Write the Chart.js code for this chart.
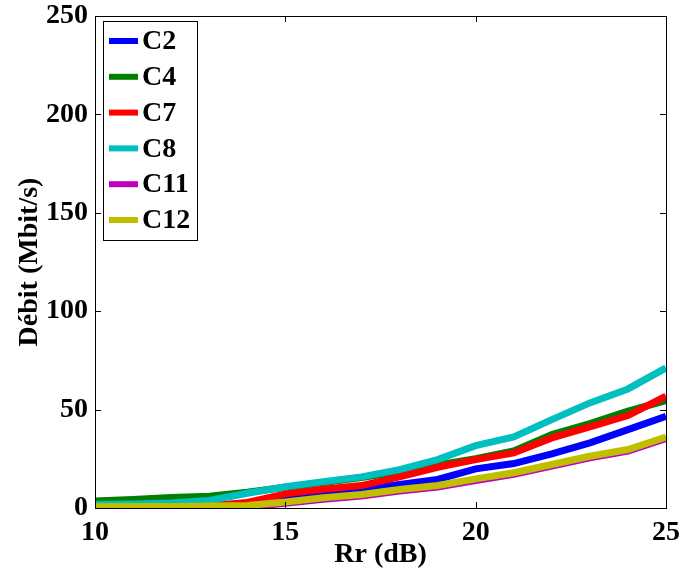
<!DOCTYPE html>
<html lang="fr">
<head>
    <meta charset="UTF-8">
    <title>Débit vs Rr</title>
    <script src="https://cdn.jsdelivr.net/npm/chart.js"></script>
    <style>
        html, body { margin: 0; padding: 0; background: #fff; }
        .chart-container { position: relative; width: 682px; height: 576px; }
    </style>
</head>
<body>
    <div class="chart-container">
        <canvas id="debitChart"></canvas>
    </div>

    <script>
        // Data
        const rr = [10, 11, 12, 13, 14, 15, 16, 17, 18, 19, 20, 21, 22, 23, 24, 25];
        const c2  = [0.5, 0.5, 0.6, 1.0, 2.5, 6.0, 8.0, 9.6, 11.9, 14.5, 19.9, 22.6, 27.5, 33.1, 39.8, 46.6];
        const c4  = [3.5, 4.3, 5.3, 6.0, 8.0, 10.5, 13.0, 15.5, 18.5, 21.9, 25.0, 29.0, 37.3, 42.9, 49.2, 54.6];
        const c7  = [0.3, 0.4, 0.5, 1.0, 2.8, 7.2, 9.5, 11.4, 15.8, 20.7, 24.6, 28.0, 35.6, 41.2, 47.0, 56.8];
        const c8  = [1.8, 2.0, 2.6, 3.8, 7.5, 10.8, 13.4, 15.8, 19.5, 24.6, 31.7, 36.1, 44.9, 53.4, 60.5, 71.2];
        const c11 = [0.0, 0.0, 0.1, 0.3, 0.6, 2.4, 4.4, 6.1, 8.6, 10.6, 14.0, 17.1, 21.3, 25.5, 28.9, 35.3];
        const c12 = [0.6, 0.7, 0.8, 1.0, 1.3, 3.0, 5.2, 6.9, 9.4, 11.4, 14.8, 17.9, 22.1, 26.3, 29.7, 36.1];
        const seriesNames = ['C2', 'C4', 'C7', 'C8', 'C11', 'C12'];
        const seriesData = [c2, c4, c7, c8, c11, c12];
        const seriesColors = ['#0000ff', '#008000', '#ff0000', '#00bfbf', '#bf00bf', '#bfbf00'];
        const xTicks = [10, 15, 20, 25];
        const yTicks = [0, 50, 100, 150, 200, 250];

        const FONT = '"Liberation Serif", "Times New Roman", serif';

        // MATLAB-style box with inward ticks on all sides
        const boxPlugin = {
            id: 'box',
            afterDatasetsDraw(chart) {
                const {ctx, chartArea: a, scales: {x, y}} = chart;
                ctx.save();
                ctx.strokeStyle = '#000';
                ctx.lineWidth = 1;
                ctx.strokeRect(a.left + 0.5, a.top + 0.5, a.right - a.left, a.bottom - a.top);
                ctx.beginPath();
                xTicks.forEach(v => {
                    const px = Math.round(x.getPixelForValue(v)) + 0.5;
                    ctx.moveTo(px, a.bottom); ctx.lineTo(px, a.bottom - 6);
                    ctx.moveTo(px, a.top); ctx.lineTo(px, a.top + 6);
                });
                yTicks.forEach(v => {
                    const py = Math.round(y.getPixelForValue(v)) + 0.5;
                    ctx.moveTo(a.left, py); ctx.lineTo(a.left + 6, py);
                    ctx.moveTo(a.right, py); ctx.lineTo(a.right - 6, py);
                });
                ctx.stroke();
                ctx.restore();
            }
        };

        // legend box drawn inside the plot, top-left
        const insideLegend = {
            id: 'insideLegend',
            afterDraw(chart) {
                const {ctx} = chart;
                const left = 103, top = 21, w = 94, h = 219;
                ctx.save();
                ctx.fillStyle = '#fff';
                ctx.fillRect(left, top, w, h);
                ctx.strokeStyle = '#000';
                ctx.lineWidth = 1;
                ctx.strokeRect(left + 0.5, top + 0.5, w, h);
                ctx.font = 'bold 28px ' + FONT;
                ctx.textBaseline = 'middle';
                chart.data.datasets.forEach((ds, i) => {
                    const yy = top + 20 + i * 35.8;
                    ctx.strokeStyle = ds.borderColor;
                    ctx.lineWidth = 6;
                    ctx.beginPath();
                    ctx.moveTo(109, yy);
                    ctx.lineTo(138, yy);
                    ctx.stroke();
                    ctx.fillStyle = '#000';
                    ctx.fillText(ds.label, 142, yy + 1);
                });
                ctx.restore();
            }
        };

        // drop the extra room Chart.js keeps for the end labels
        function noPad(s) {
            s.paddingTop = 0; s.paddingBottom = 0;
            s.paddingLeft = 0; s.paddingRight = 0;
        }

        const ctx = document.getElementById('debitChart').getContext('2d');
        const chart = new Chart(ctx, {
            type: 'line',
            data: {
                labels: rr,
                datasets: seriesNames.map((name, i) => ({
                    label: name,
                    data: rr.map((r, j) => ({x: r, y: seriesData[i][j]})),
                    borderColor: seriesColors[i],
                    backgroundColor: seriesColors[i],
                    borderWidth: 7,
                    pointRadius: 0,
                    tension: 0,
                    fill: false,
                    order: seriesNames.length - i   // later series on top, like MATLAB
                }))
            },
            options: {
                responsive: true,
                maintainAspectRatio: false,
                animation: false,
                layout: { padding: { left: 0, top: 16, right: 16, bottom: 0 } },
                plugins: {
                    legend: { display: false },
                    tooltip: { enabled: false }
                },
                scales: {
                    x: {
                        type: 'linear',
                        min: 10,
                        max: 25,
                        afterBuildTicks: s => { s.ticks = xTicks.map(v => ({value: v})); },
                        afterFit: s => { s.height = 68; noPad(s); },
                        grid: { display: false, drawTicks: false },
                        border: { display: false },
                        ticks: {
                            color: '#000',
                            padding: 8,
                            font: { family: FONT, size: 28, weight: 'bold' }
                        },
                        title: {
                            display: true,
                            text: 'Rr (dB)',
                            color: '#000',
                            padding: { top: 0, bottom: 4 },
                            font: { family: FONT, size: 28, weight: 'bold' }
                        }
                    },
                    y: {
                        min: 0,
                        max: 250,
                        afterBuildTicks: s => { s.ticks = yTicks.map(v => ({value: v})); },
                        afterFit: s => { s.width = 95; noPad(s); },
                        grid: { display: false, drawTicks: false },
                        border: { display: false },
                        ticks: {
                            color: '#000',
                            padding: 7,
                            font: { family: FONT, size: 28, weight: 'bold' }
                        },
                        title: {
                            display: true,
                            text: 'Débit (Mbit/s)',
                            color: '#000',
                            padding: { top: 13, bottom: 0 },
                            font: { family: FONT, size: 28, weight: 'bold' }
                        }
                    }
                }
            },
            plugins: [boxPlugin, insideLegend]
        });
    </script>
</body>
</html>
